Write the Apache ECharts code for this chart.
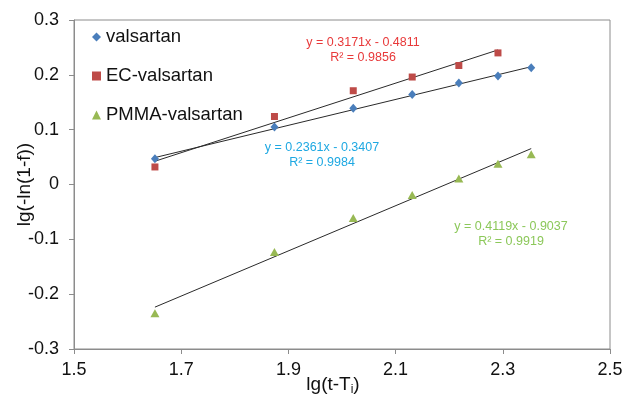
<!DOCTYPE html>
<html>
<head>
<meta charset="utf-8">
<script src="https://cdn.jsdelivr.net/npm/echarts@6/dist/echarts.min.js"></script>
<style>
  html, body { margin: 0; padding: 0; background: #fff; }
  #chart { width: 627px; height: 397px; }
</style>
</head>
<body>
<div id="chart"></div>
<script>
// lg(t - Ti) for each sampling time
const xValues = [1.651, 1.874, 2.021, 2.131, 2.218, 2.291, 2.353];

// lg(-ln(1-f)) for each formulation
const valsartan = [0.047, 0.105, 0.139, 0.164, 0.185, 0.198, 0.213];
const ecValsartan = [0.032, 0.124, 0.171, 0.196, 0.217, 0.240];
const pmmaValsartan = [-0.235, -0.123, -0.061, -0.019, 0.011, 0.038, 0.055];

const seriesNames = ['valsartan', 'EC-valsartan', 'PMMA-valsartan'];

// Linear fits: y = slope * x + intercept
const slopes = [0.2361, 0.3171, 0.4119];
const intercepts = [-0.3407, -0.4811, -0.9037];
const rSquared = ['0.9984', '0.9856', '0.9919'];

const xTicks = [1.5, 1.7, 1.9, 2.1, 2.3, 2.5];

const markerColors = ['#4a7ebb', '#be4b48', '#98b954'];
const labelColors = ['#1ea8e2', '#e8393a', '#8cc85a'];
const symbols = ['diamond', 'rect', 'triangle'];
const symbolSizes = [[8, 9], [7, 7], [9, 8]];

const allY = [valsartan, ecValsartan, pmmaValsartan];

function pairs(ys) {
  return ys.map((y, i) => [xValues[i], y]);
}

function fitLine(k) {
  const n = allY[k].length;
  const x0 = xValues[0], x1 = xValues[n - 1];
  return [[x0, slopes[k] * x0 + intercepts[k]], [x1, slopes[k] * x1 + intercepts[k]]];
}

function equation(k) {
  const b = intercepts[k];
  return 'y = ' + slopes[k].toFixed(4) + 'x ' + (b < 0 ? '- ' : '+ ') + Math.abs(b).toFixed(4);
}

const chart = echarts.init(document.getElementById('chart'), null, { renderer: 'canvas' });

const font = 'Liberation Sans, Arial, sans-serif';

const series = [];
// trend lines first so markers sit on top
for (let k = 0; k < 3; k++) {
  series.push({
    type: 'line',
    data: fitLine(k),
    symbol: 'none',
    silent: true,
    lineStyle: { color: '#2a2a2a', width: 1 },
    z: 2
  });
}
for (let k = 0; k < 3; k++) {
  series.push({
    name: seriesNames[k],
    type: 'scatter',
    data: pairs(allY[k]),
    symbol: symbols[k],
    symbolSize: symbolSizes[k],
    itemStyle: { color: markerColors[k], opacity: 1 },
    z: 3
  });
}

// centres of the first line of each fit equation
const eqPos = [[322, 148], [363, 43], [511, 227]];
const graphics = [];
for (let k = 0; k < 3; k++) {
  graphics.push({
    type: 'text',
    x: eqPos[k][0],
    y: eqPos[k][1] + 7.5,
    style: {
      text: equation(k) + '\nR² = ' + rSquared[k],
      fill: labelColors[k],
      font: '12.5px ' + font,
      align: 'center',
      verticalAlign: 'middle',
      lineHeight: 15
    },
    z: 10
  });
}

chart.setOption({
  animation: false,
  backgroundColor: '#ffffff',
  textStyle: { fontFamily: font },
  grid: {
    left: 74, right: 17, top: 20, bottom: 48,
    outerBoundsMode: 'none',
    containLabel: false,
    show: true, borderColor: '#8c8c8c', borderWidth: 1
  },
  legend: {
    data: seriesNames,
    orient: 'vertical',
    left: 92,
    top: 27,
    padding: 0,
    itemWidth: 9,
    itemHeight: 9,
    itemGap: 19,
    textStyle: { fontSize: 18.5, color: '#111', lineHeight: 20, fontFamily: font }
  },
  xAxis: {
    type: 'value',
    min: 1.5,
    max: 2.5,
    splitLine: { show: false },
    axisLine: { show: true, onZero: false, lineStyle: { color: '#8c8c8c', width: 1 } },
    axisTick: { show: true, length: 5, customValues: xTicks, lineStyle: { color: '#8c8c8c' } },
    axisLabel: { customValues: xTicks, fontSize: 18, color: '#111', margin: 12,
      formatter: v => v.toFixed(1) },
    name: '{a|lg(t-T}{s|i}{a|)}',
    nameLocation: 'middle',
    nameMoveOverlap: false,
    nameGap: 25,
    nameTextStyle: {
      padding: [0, 18, 0, 0],
      rich: {
        a: { fontSize: 19, color: '#111', fontFamily: font },
        s: { fontSize: 12, color: '#111', fontFamily: font, padding: [10, 0, 0, 0] }
      }
    }
  },
  yAxis: {
    type: 'value',
    min: -0.3,
    max: 0.3,
    interval: 0.1,
    splitLine: { show: false },
    axisLine: { show: true, onZero: false, lineStyle: { color: '#8c8c8c', width: 1 } },
    axisTick: { show: true, length: 5, lineStyle: { color: '#8c8c8c' } },
    axisLabel: { fontSize: 18, color: '#111', margin: 15,
      formatter: v => { const r = Math.round(v * 10) / 10; return r === 0 ? '0' : r.toFixed(1); } },
    name: 'lg(-ln(1-f))',
    nameLocation: 'middle',
    nameMoveOverlap: false,
    nameGap: 40,
    nameTextStyle: { fontSize: 19, color: '#111', fontFamily: font }
  },
  graphic: graphics,
  series: series
});
</script>
</body>
</html>
